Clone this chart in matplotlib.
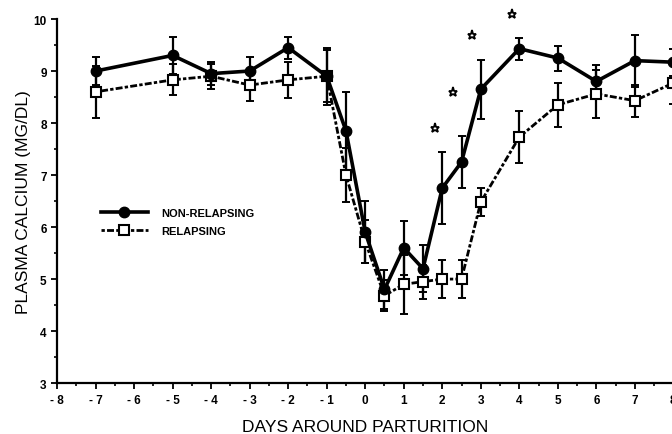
import numpy as np
import matplotlib.pyplot as plt
from matplotlib.ticker import MultipleLocator

plt.rcParams['font.family'] = ['Liberation Sans', 'DejaVu Sans']

# days around parturition
days = [-7, -5, -4, -3, -2, -1, -0.5, 0, 0.5, 1, 1.5, 2, 2.5, 3, 4, 5, 6, 7, 8]

# non-relapsing: mean and error bar half-length
nonrel = [9.0, 9.3, 8.95, 9.0, 9.45, 8.9, 7.85, 5.9, 4.8, 5.6, 5.2, 6.75, 7.25, 8.65, 9.43, 9.25, 8.8, 9.2, 9.17]
nonrel_err = [0.27, 0.35, 0.22, 0.27, 0.21, 0.5, 0.75, 0.6, 0.38, 0.52, 0.45, 0.7, 0.5, 0.57, 0.21, 0.24, 0.32, 0.5, 0.26]

# relapsing
rel = [8.6, 8.83, 8.9, 8.73, 8.83, 8.9, 7.0, 5.72, 4.68, 4.9, 4.95, 5.0, 5.0, 6.48, 7.73, 8.35, 8.56, 8.43, 8.77]
rel_err = [0.5, 0.3, 0.24, 0.3, 0.35, 0.55, 0.52, 0.42, 0.3, 0.57, 0.33, 0.36, 0.36, 0.27, 0.5, 0.42, 0.46, 0.31, 0.4]

# significance stars
star_x = [1.8, 2.27, 2.77, 3.8]
star_y = [7.9, 8.6, 9.7, 10.1]

xticks = np.arange(-8, 9)
xlabels = ['- %d' % -v if v < 0 else '%d' % v for v in xticks]

fig = plt.figure(figsize=(6.72, 4.35), dpi=100)
ax = fig.add_axes([0.085, 0.117, 0.917, 0.837])

ax.errorbar(days, rel, yerr=rel_err, fmt='none', ecolor='black',
            elinewidth=1.6, capsize=3, capthick=1.4, zorder=2)
ax.errorbar(days, nonrel, yerr=nonrel_err, fmt='none', ecolor='black',
            elinewidth=1.6, capsize=3, capthick=1.4, zorder=2)

ax.plot(days, rel, color='black', linewidth=2.0, linestyle=(0, (1.2, 0.8, 2.5, 0.8)),
        marker='s', markersize=7, markerfacecolor='white', markeredgecolor='black',
        markeredgewidth=1.5, label='RELAPSING', zorder=3)
ax.plot(days, nonrel, color='black', linewidth=2.6, marker='o', markersize=7.5,
        markerfacecolor='black', label='NON-RELAPSING', zorder=4)

ax.plot(star_x, star_y, linestyle='none', marker='*', markersize=6.5,
        color='black', markerfacecolor='white', markeredgewidth=1.3, clip_on=False)

handles, labels = ax.get_legend_handles_labels()
leg = ax.legend(handles[::-1], labels[::-1], loc='upper left', bbox_to_anchor=(0.055, 0.508),
                frameon=False, handlelength=4.2, labelspacing=0.7, handletextpad=1.2,
                prop={'weight': 'bold', 'size': 8})

ax.set_xlim(-8, 8)
ax.set_ylim(3, 10)
ax.set_xticks(xticks)
ax.set_xticklabels(xlabels)
ax.xaxis.set_minor_locator(MultipleLocator(0.5))
ax.yaxis.set_minor_locator(MultipleLocator(0.5))
ax.tick_params(which='major', direction='out', length=4, width=1.3, labelsize=8.5)
ax.tick_params(which='minor', direction='out', length=2.5, width=1.2)
for lab in ax.get_xticklabels() + ax.get_yticklabels():
    lab.set_fontweight('bold')

ax.spines['top'].set_visible(False)
ax.spines['right'].set_visible(False)
ax.spines['left'].set_linewidth(1.6)
ax.spines['bottom'].set_linewidth(1.6)

ax.set_xlabel('DAYS AROUND PARTURITION', fontsize=12.5, labelpad=10)
ax.set_ylabel('PLASMA CALCIUM (MG/DL)', fontsize=12.5, labelpad=2)

plt.savefig('out.png', dpi=100)
